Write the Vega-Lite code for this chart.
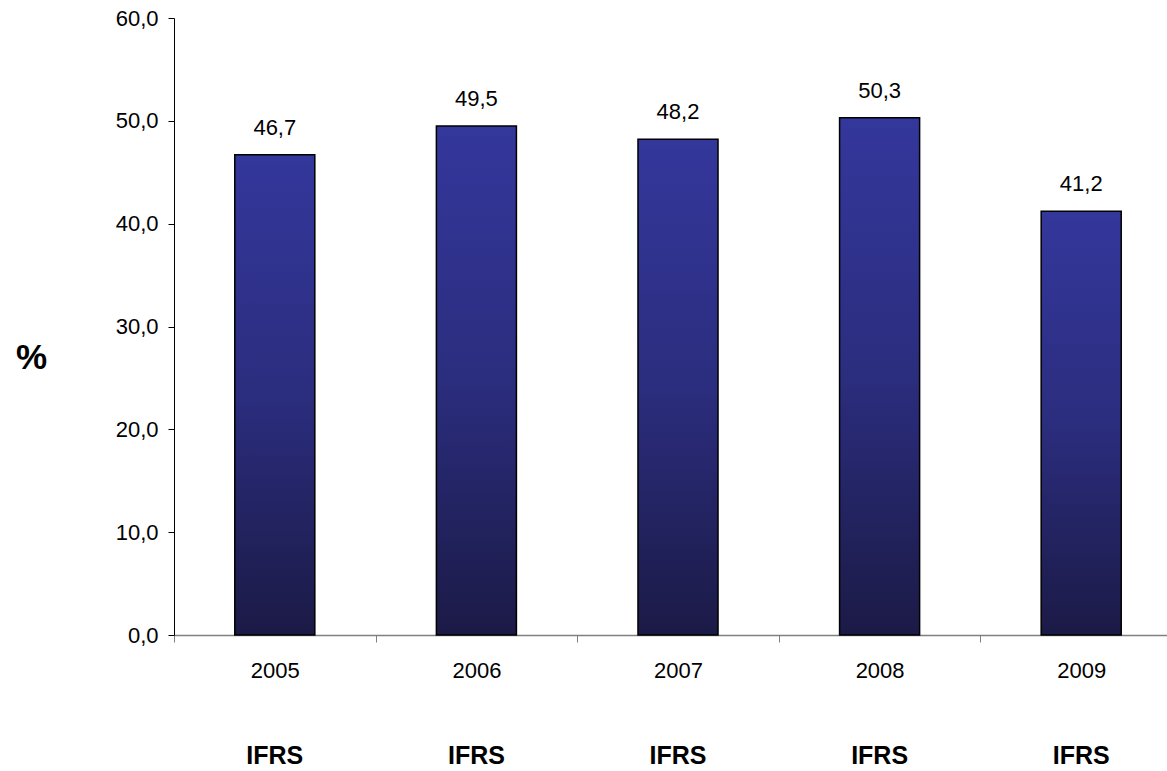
{
  "$schema": "https://vega.github.io/schema/vega-lite/v6.json",
  "autosize": {"type": "none"},
  "padding": {"left": 174, "top": 18, "right": 0, "bottom": 136},
  "width": 993,
  "height": 617,
  "background": "white",
  "config": {
    "view": {"stroke": null},
    "font": "Liberation Sans",
    "locale": {"number": {"decimal": ",", "thousands": ".", "grouping": [3], "currency": ["", " €"]}}
  },
  "data": {"values": [
    {"year": "2005", "value": 46.7, "standard": "IFRS"},
    {"year": "2006", "value": 49.5, "standard": "IFRS"},
    {"year": "2007", "value": 48.2, "standard": "IFRS"},
    {"year": "2008", "value": 50.3, "standard": "IFRS"},
    {"year": "2009", "value": 41.2, "standard": "IFRS"}
  ]},
  "resolve": {"axis": {"x": "independent"}},
  "layer": [
    {
      "mark": {"type": "bar", "width": {"band": 0.397}, "stroke": "#000000", "strokeWidth": 1.5,
        "color": {"gradient": "linear", "x1": 0, "y1": 0, "x2": 0, "y2": 1,
          "stops": [{"offset": 0, "color": "#34379b"}, {"offset": 0.5, "color": "#2b2d7e"}, {"offset": 1, "color": "#1b1a46"}]}},
      "encoding": {
        "x": {"field": "year", "type": "nominal", "scale": {"paddingInner": 0, "paddingOuter": 0, "range": [0, 1008]},
          "axis": {"title": null, "labelAngle": 0, "labelFontSize": 22, "labelColor": "#000", "labelPadding": 18,
            "domainColor": "#808080", "domainWidth": 1.5, "tickColor": "#808080", "tickSize": 7, "tickBand": "extent", "bandPosition": 0}},
        "y": {"field": "value", "type": "quantitative", "scale": {"domain": [0, 60], "nice": false},
          "axis": {"values": [0, 10, 20, 30, 40, 50, 60], "format": ".1f", "grid": false, "labelFontSize": 22, "labelColor": "#000",
            "domainColor": "#000", "tickColor": "#000", "tickSize": 6, "labelPadding": 10,
            "title": "%", "titleAngle": 0, "titleFontSize": 35, "titleFontWeight": "bold", "titleX": -143, "titleY": 339,
            "titleAlign": "center", "titleBaseline": "middle"}}
      }
    },
    {
      "mark": {"type": "text", "baseline": "alphabetic", "dy": -20, "fontSize": 22, "color": "#000"},
      "encoding": {
        "x": {"field": "year", "type": "nominal",
          "axis": {"orient": "bottom", "offset": 106, "title": null, "domain": false, "ticks": false, "labelAngle": 0,
            "labelExpr": "'IFRS'", "labelFontSize": 25, "labelFontWeight": "bold", "labelColor": "#000"}},
        "y": {"field": "value", "type": "quantitative"},
        "text": {"field": "value", "type": "quantitative", "format": ".1f"}
      }
    }
  ]
}
